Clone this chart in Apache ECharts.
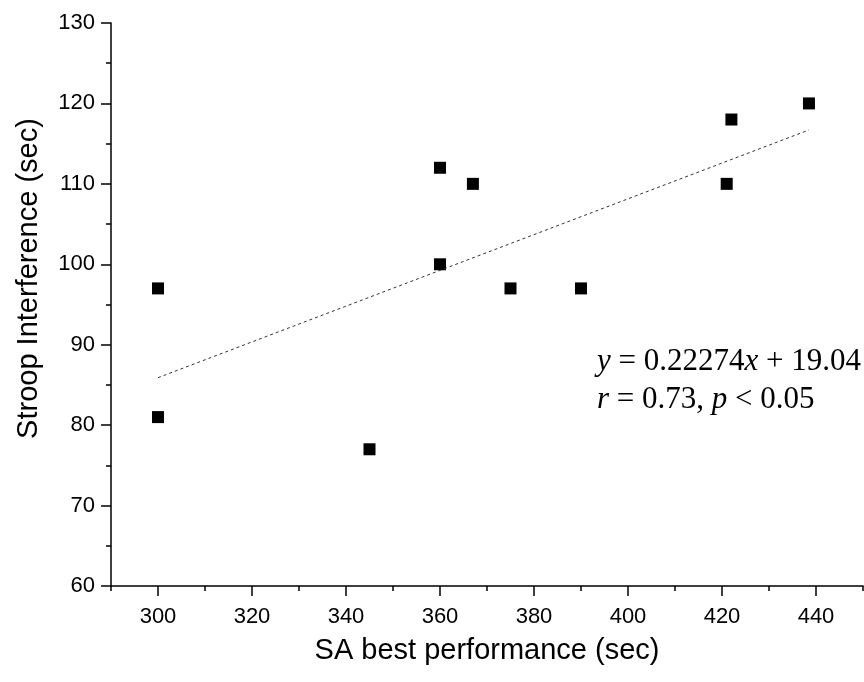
<!DOCTYPE html>
<html>
<head>
<meta charset="utf-8">
<script src="https://cdn.jsdelivr.net/npm/echarts@6/dist/echarts.min.js"></script>
<style>
html,body{margin:0;padding:0;background:#fff;}
#chart{width:864px;height:682px;}
</style>
</head>
<body>
<div id="chart"></div>
<script>
// Data
var saBest = [300, 300, 345, 360, 360, 367, 375, 390, 421, 422, 438.5];
var stroop = [97, 81, 77, 112, 100, 110, 97, 97, 110, 118, 120];
var trendX = [300, 438.5];
var trendY = [85.9, 116.7];
var xMajorTicks = [300, 320, 340, 360, 380, 400, 420, 440];
var xTitle = 'SA best performance (sec)';
var yTitle = 'Stroop Interference (sec)';
var eqLine1 = ['y', ' = 0.22274', 'x', ' + 19.04'];
var eqLine2 = ['r', ' = 0.73, ', 'p', ' < 0.05'];

var pts = saBest.map(function (x, i) { return [x, stroop[i]]; });
var trend = trendX.map(function (x, i) { return [x, trendY[i]]; });

var sans = '"Liberation Sans", Arial, sans-serif';
var serif = '"Liberation Serif", "Times New Roman", serif';
var eqSize = 31;

function eq(parts) {
  return '{i|' + parts[0] + '}{n|' + parts[1] + '}{i|' + parts[2] + '}{n|' + parts[3] + '}';
}

var chart = echarts.init(document.getElementById('chart'), null, {renderer: 'canvas'});
chart.setOption({
  animation: false,
  backgroundColor: '#fff',
  grid: {left: 111, right: 1, top: 23, bottom: 96, containLabel: false, outerBoundsMode: 'none'},
  xAxis: [{
    type: 'value', position: 'bottom', min: 290, max: 450, interval: 10,
    axisLine: {show: true, onZero: false, lineStyle: {color: '#000', width: 1.5}},
    axisTick: {show: true, length: 5, lineStyle: {color: '#000', width: 1.5}},
    axisLabel: {show: false},
    splitLine: {show: false},
    name: xTitle, nameLocation: 'middle', nameGap: 50,
    nameTextStyle: {fontFamily: sans, fontSize: 29, color: '#000'}
  }, {
    type: 'value', position: 'bottom', offset: 0, min: 290, max: 450,
    axisLine: {show: false},
    axisTick: {show: true, length: 10, customValues: xMajorTicks, lineStyle: {color: '#000', width: 1.5}},
    axisLabel: {show: true, customValues: xMajorTicks, margin: 20, fontFamily: sans, fontSize: 22, color: '#000'},
    splitLine: {show: false}
  }],
  yAxis: {
    type: 'value', min: 60, max: 130, interval: 10,
    axisLine: {show: true, onZero: false, lineStyle: {color: '#000', width: 1.5}},
    axisTick: {show: true, length: 10, lineStyle: {color: '#000', width: 1.5}},
    minorTick: {show: true, splitNumber: 2, length: 5, lineStyle: {color: '#000', width: 1.5}},
    axisLabel: {margin: 16, fontFamily: sans, fontSize: 22, color: '#000'},
    splitLine: {show: false},
    minorSplitLine: {show: false},
    name: yTitle, nameLocation: 'middle', nameGap: 68,
    nameTextStyle: {fontFamily: sans, fontSize: 29, color: '#000', padding: [0, 0, 0, 52]}
  },
  series: [{
    type: 'line', data: trend, xAxisIndex: 0, symbol: 'none', silent: true,
    lineStyle: {color: '#333', width: 1, type: [3, 3]}
  }, {
    type: 'scatter', data: pts, xAxisIndex: 0, symbol: 'rect', symbolSize: 12,
    itemStyle: {color: '#000', opacity: 1}
  }],
  graphic: [{
    type: 'text', left: 597, top: 346,
    style: {
      text: eq(eqLine1),
      fontFamily: serif, fontSize: eqSize, fill: '#000',
      rich: {i: {fontFamily: serif, fontStyle: 'italic', fontSize: eqSize}, n: {fontFamily: serif, fontSize: eqSize}}
    }
  }, {
    type: 'text', left: 597, top: 384,
    style: {
      text: eq(eqLine2),
      fontFamily: serif, fontSize: eqSize, fill: '#000',
      rich: {i: {fontFamily: serif, fontStyle: 'italic', fontSize: eqSize}, n: {fontFamily: serif, fontSize: eqSize}}
    }
  }]
});
</script>
</body>
</html>
